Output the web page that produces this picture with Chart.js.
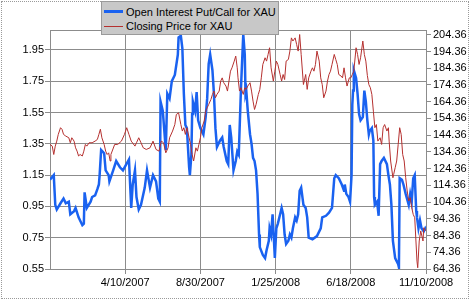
<!DOCTYPE html>
<html>
<head>
<meta charset="utf-8">
<script src="https://cdn.jsdelivr.net/npm/chart.js@4.4.1/dist/chart.umd.min.js"></script>
<style>
  body { margin: 0; background: #fff; }
  #wrap { position: relative; width: 470px; height: 300px; }
  #frame { position: absolute; left: 1px; top: 1px; width: 466px; height: 296px; border: 1px dotted #9a9a9a; }
  canvas { position: absolute; left: 0; top: 0; }
  #legend { position: absolute; left: 101px; top: 1px; width: 176px; height: 32px; background: #c8c8c8;
            border: 1px solid #9a9a9a; font: 11px "Liberation Sans", Arial, sans-serif; color: #000; }
  .row { position: absolute; left: 0; width: 176px; height: 14px; line-height: 14px; }
  .swatch { position: absolute; left: 2px; width: 19px; }
  .txt { position: absolute; left: 24px; white-space: nowrap; }
</style>
</head>
<body>
<div id="wrap">
  <div id="frame"></div>
  <canvas id="chart" width="470" height="300"></canvas>
  <div id="legend">
    <div class="row" style="top:3px"><span class="swatch" style="top:5px;height:3px;background:#1a62f0"></span><span class="txt">Open Interest Put/Call for XAU</span></div>
    <div class="row" style="top:17px"><span class="swatch" style="top:7px;height:1px;background:#b5302f"></span><span class="txt">Closing Price for XAU</span></div>
  </div>
</div>
<script>
// --- data (x = trading day since start of the window) ---
const dateTicks = [100, 200, 300, 400, 500];
const dateLabels = ['4/10/2007', '8/30/2007', '1/25/2008', '6/18/2008', '11/10/2008'];
const ratioTicks = [0.55, 0.75, 0.95, 1.15, 1.35, 1.55, 1.75, 1.95];
const priceTicks = [64.36, 74.36, 84.36, 94.36, 104.36, 114.36, 124.36, 134.36, 144.36, 154.36, 164.36, 174.36, 184.36, 194.36, 204.36];

const ratioDay = [0,5,7,9,14,18,21,25,27,32,34,38,43,45,46,49,54,56,60,63,65,66,68,72,74,78,79,84,88,93,97,105,108,110,113,115,118,121,126,129,133,137,141,144,146,147,150,154,156,159,162,166,170,171,174,176,178,180,182,185,186,188,189,190,193,195,197,200,204,207,209,211,213,216,218,220,222,226,229,231,235,237,239,241,244,247,249,251,254,257,259,260,261,263,266,268,270,272,274,276,278,279,283,286,288,291,292,294,296,299,301,303,306,308,310,312,314,317,319,321,323,326,328,330,332,334,337,340,342,344,349,355,360,362,367,371,375,378,380,384,388,391,392,394,397,399,401,402,403,404,407,409,411,413,416,418,420,422,424,425,428,430,431,432,435,437,439,441,444,448,450,452,454,456,459,461,463,464,465,468,470,473,477,479,481,483,485,487,488,490,492,494,497,499,500];
const ratioValue = [1.12,1.15,0.96,0.93,0.97,1.00,0.97,0.98,0.90,0.92,0.94,0.88,0.83,0.84,1.04,0.94,0.98,1.01,1.02,1.06,1.09,1.15,1.31,1.29,1.18,1.15,1.11,1.18,1.24,1.20,1.18,1.25,0.94,1.09,1.18,1.01,0.93,0.96,1.07,1.18,1.07,1.15,1.11,1.00,0.98,1.62,1.56,1.31,1.67,1.64,1.75,1.79,1.92,2.03,2.04,1.96,1.67,1.47,1.45,1.20,1.15,1.28,1.54,1.62,1.56,1.68,1.50,1.45,1.41,1.52,1.64,1.86,1.92,1.82,1.67,1.45,1.33,1.37,1.39,1.33,1.24,1.22,1.47,1.39,1.18,1.24,1.30,1.28,1.71,2.05,1.92,1.67,1.69,1.56,1.41,1.35,1.26,1.24,1.18,1.03,0.77,0.69,0.64,0.62,0.67,0.73,0.81,0.77,0.90,0.62,0.81,0.84,0.90,0.94,0.90,0.77,0.71,0.73,0.77,0.75,0.81,0.88,0.86,0.90,1.05,1.07,0.96,0.94,0.88,0.75,0.74,0.76,0.81,0.88,0.89,0.91,0.94,1.13,1.15,1.13,1.09,1.05,1.09,1.03,1.01,0.98,1.15,1.60,1.69,1.82,1.77,1.67,1.54,1.50,1.52,1.69,1.62,1.50,1.41,1.43,1.45,1.37,1.01,0.96,0.98,0.89,1.22,1.24,1.26,1.22,1.15,1.09,0.96,0.73,0.62,0.60,0.58,0.56,1.13,1.12,1.09,1.03,0.96,1.03,0.98,1.13,1.15,0.92,0.88,0.81,0.86,0.81,0.79,0.81,0.80];

const priceDay = [0,3,5,7,9,11,14,16,18,21,25,27,29,32,34,36,38,40,43,45,47,49,52,56,60,63,65,67,69,72,74,76,78,80,81,86,90,95,99,102,105,108,113,115,118,121,124,128,133,137,141,145,148,151,154,157,159,163,166,168,171,174,176,178,180,182,185,187,189,191,194,196,198,200,202,205,207,209,211,214,216,218,220,222,225,227,229,231,234,236,238,240,242,245,247,249,250,252,254,257,259,261,263,266,268,270,272,274,277,279,281,283,286,288,290,292,294,297,299,301,303,306,308,310,312,314,317,319,321,323,326,328,330,332,334,337,339,340,342,344,347,349,351,353,355,358,360,362,364,367,369,371,373,375,378,380,382,384,387,389,391,393,395,398,400,402,404,407,409,411,413,416,418,420,422,424,426,428,430,432,434,436,439,441,443,445,448,450,451,453,456,457,459,461,463,465,467,469,471,473,475,477,479,481,483,485,488,489,491,493,496,497,500];
const priceValue = [138.8,137.8,132.8,137.8,140.8,144.8,148.8,147.8,144.8,143.8,142.8,139.8,142.8,140.8,136.8,134.8,131.9,132.8,131.9,134.8,138.8,137.8,139.8,139.8,140.8,141.8,144.8,147.9,142.8,138.8,134.8,132.8,133.8,128.9,132.8,138.8,138.8,140.8,144.8,148.8,144.8,140.8,137.8,139.8,142.8,139.8,136.8,135.8,136.8,140.8,135.8,134.8,140.8,139.8,133.8,136.8,142.8,146.8,150.7,156.7,157.7,150.7,146.8,148.8,144.8,148.8,142.8,138.8,132.8,128.9,136.8,134.8,138.8,142.8,148.8,152.8,158.7,160.7,162.7,165.7,168.7,170.7,166.7,168.7,170.7,176.7,178.6,175.7,173.7,170.7,176.7,182.6,184.6,188.6,191.6,184.6,178.6,170.7,172.7,168.7,172.7,171.7,173.7,175.7,170.7,164.7,159.7,162.7,168.7,171.7,178.6,186.6,190.6,188.6,192.6,196.6,184.6,176.7,182.6,188.6,186.6,180.6,176.7,180.6,177.6,188.6,189.6,194.6,202.5,200.6,202.5,198.5,194.6,204.5,192.6,174.6,178.6,180.6,171.7,178.6,182.6,184.6,182.6,186.6,194.6,188.6,178.6,174.6,166.7,170.7,176.7,180.6,182.6,186.6,192.6,189.6,186.6,180.6,179.7,178.6,184.6,178.6,173.7,178.6,178.6,180.6,182.6,196.6,192.6,186.6,190.6,200.6,192.6,188.6,180.0,174.6,172.7,168.7,158.7,148.8,150.7,140.8,142.8,138.8,148.8,150.7,146.8,148.8,140.8,128.9,118.9,120.9,124.9,128.9,138.8,148.8,144.8,132.8,128.9,118.9,111.0,105.0,107.0,101.0,97.0,95.0,69.1,65.1,81.1,87.1,81.1,89.0,87.1];

const font = { family: '"Liberation Sans", Arial, sans-serif', size: 11 };
const gridGray = '#8c8c8c';

// plot frame (top edge is not drawn by any axis)
const frame = {
  id: 'frame',
  beforeDatasetsDraw(chart) {
    const a = chart.chartArea, c = chart.ctx;
    c.save();
    c.strokeStyle = gridGray;
    c.lineWidth = 1;
    c.strokeRect(Math.round(a.left) + 0.5, Math.round(a.top) + 0.5, Math.round(a.right - a.left), Math.round(a.bottom - a.top));
    c.restore();
  }
};

new Chart(document.getElementById('chart'), {
  type: 'line',
  data: {
    datasets: [{
      label: 'Closing Price for XAU',
      data: priceDay.map((d, i) => ({ x: d, y: priceValue[i] })),
      yAxisID: 'y1',
      borderColor: '#b5302f',
      borderWidth: 1,
      pointRadius: 0,
      tension: 0,
      order: 0
    }, {
      label: 'Open Interest Put/Call for XAU',
      data: ratioDay.map((d, i) => ({ x: d, y: ratioValue[i] })),
      yAxisID: 'y',
      borderColor: '#1a62f0',
      borderWidth: 2.5,
      pointRadius: 0,
      tension: 0,
      order: 1
    }]
  },
  options: {
    responsive: false,
    animation: false,
    layout: { padding: { top: 30, left: 0, right: 0, bottom: 0 } },
    plugins: { legend: { display: false }, tooltip: { enabled: false } },
    scales: {
      x: {
        type: 'linear', min: 0, max: 500,
        afterBuildTicks: s => { s.ticks = dateTicks.map(v => ({ value: v })); },
        afterFit: s => { s.height = 31; },
        ticks: { callback: v => dateLabels[dateTicks.indexOf(v)], autoSkip: false, maxRotation: 0, padding: 2, color: '#000', font },
        grid: { color: gridGray, tickLength: 5 },
        border: { color: gridGray }
      },
      y: {
        position: 'left', min: 0.55, max: 2.077,
        afterBuildTicks: s => { s.ticks = ratioTicks.map(v => ({ value: v })); },
        afterFit: s => { s.width = 50; },
        ticks: { callback: v => v.toFixed(2), autoSkip: false, padding: 1, color: '#000', font },
        grid: { color: gridGray, tickLength: 5 },
        border: { color: gridGray }
      },
      y1: {
        position: 'right', min: 64.36, max: 207.2,
        afterBuildTicks: s => { s.ticks = priceTicks.map(v => ({ value: v })); },
        afterFit: s => { s.width = 44; },
        ticks: { callback: v => v.toFixed(2), autoSkip: false, padding: 2, color: '#000', font },
        grid: { drawOnChartArea: false, color: gridGray, tickLength: 5 },
        border: { color: gridGray }
      }
    }
  },
  plugins: [frame]
});
</script>
</body>
</html>
